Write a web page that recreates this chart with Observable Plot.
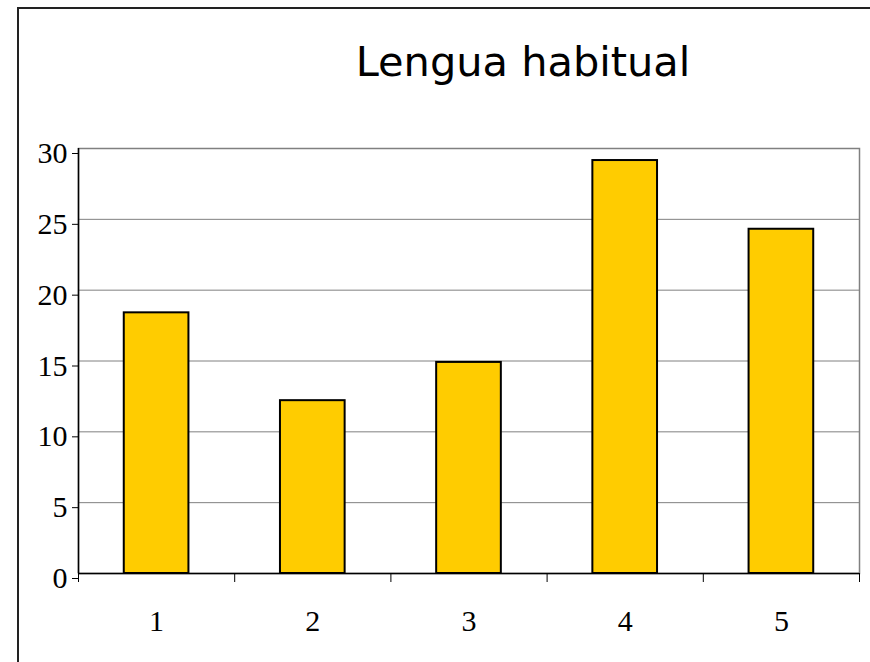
<!DOCTYPE html>
<html>
<head>
<meta charset="utf-8">
<script src="https://cdn.jsdelivr.net/npm/d3@7"></script>
<script src="https://cdn.jsdelivr.net/npm/@observablehq/plot@0.6"></script>
<style>
  html, body { margin: 0; padding: 0; background: #fff; overflow: hidden; }
  #wrap { position: relative; width: 870px; height: 662px; overflow: hidden; background: #fff; }
  #frame { position: absolute; left: 17px; top: 7px; width: 853px; height: 655px;
           border-left: 2px solid #222; border-top: 2px solid #222; box-sizing: border-box; }
  #title { position: absolute; top: 42px; left: 523px; transform: translateX(-50%);
           font-family: "DejaVu Sans", sans-serif; font-size: 41.5px; line-height: 40px;
           white-space: nowrap; color: #000; }
  #chart { position: absolute; top: 100px; left: 0; }
</style>
</head>
<body>
<div id="wrap">
  <div id="frame"></div>
  <div id="title">Lengua habitual</div>
  <div id="chart"></div>
</div>
<script>
const categories = ["1", "2", "3", "4", "5"];
const values = [18.4, 12.2, 14.9, 29.15, 24.3];
const yTicks = [0, 5, 10, 15, 20, 25, 30];

const data = categories.map((c, i) => ({cat: c, pos: i + 1, value: values[i]}));
const boundaries = d3.range(0, categories.length + 1).map(i => i + 0.5);
const barHalf = 0.207;

const chart = Plot.plot({
  width: 870,
  height: 562,
  marginTop: 48,
  marginBottom: 89,
  marginLeft: 78,
  marginRight: 11,
  style: {fontFamily: "'Liberation Serif', serif", fontSize: "30px", color: "#000", background: "transparent"},
  x: {domain: [0.5, categories.length + 0.5], label: null},
  y: {domain: [0, 30], label: null},
  marks: [
    Plot.gridY(yTicks, {stroke: "#808080", strokeOpacity: 1}),
    Plot.frame({stroke: "#808080", strokeWidth: 1.5}),
    Plot.rectY(data, {
      x1: d => d.pos - barHalf,
      x2: d => d.pos + barHalf,
      y1: 0,
      y2: "value",
      fill: "#FFCC00",
      stroke: "#000",
      strokeWidth: 2
    }),
    Plot.ruleY([0], {stroke: "#000", strokeWidth: 1.5}),
    Plot.ruleX([0.5], {stroke: "#000", strokeWidth: 1.5}),
    Plot.axisY(yTicks, {tickSize: 6, tickPadding: 5, dy: 5, stroke: "#000", fill: "#000", fontSize: 30, label: null}),
    Plot.axisX(boundaries, {tickSize: 9, tickFormat: () => "", stroke: "#000", label: null}),
    Plot.axisX(data.map(d => d.pos), {tickSize: 0, tickPadding: 36, tickFormat: (d) => categories[d - 1], fill: "#000", fontSize: 30, label: null})
  ]
});
document.getElementById("chart").appendChild(chart);
</script>
</body>
</html>
